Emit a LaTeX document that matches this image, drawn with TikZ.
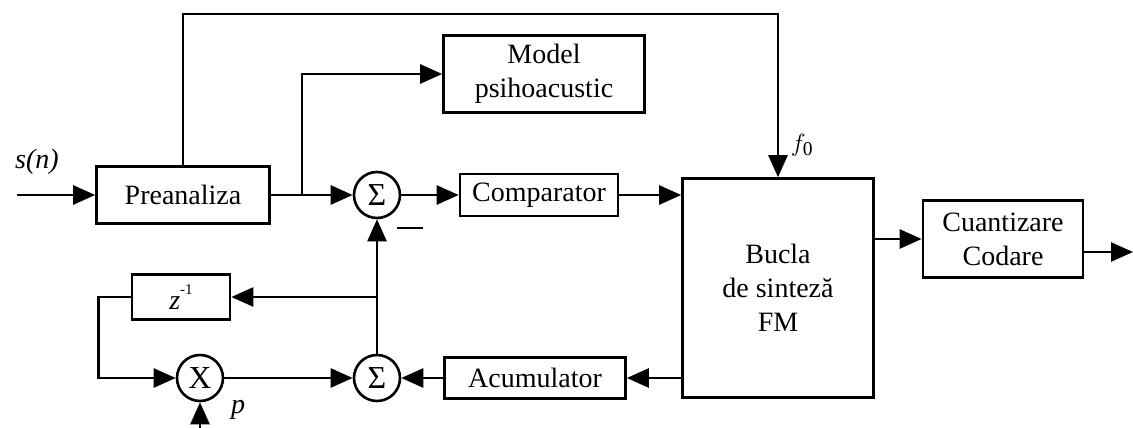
\documentclass[tikz,border=0pt]{standalone}
\usepackage{fontspec}
\setmainfont{Liberation Serif}
\usetikzlibrary{arrows.meta}
\begin{document}
\begin{tikzpicture}[x=1pt,y=-1pt,
  every node/.style={font=\fontsize{28}{34}\selectfont},
  blk/.style={draw,line width=2.6pt,rectangle,inner sep=0pt,align=center},
  sumc/.style={draw,line width=2.6pt,circle,minimum size=46pt,inner sep=0pt,font=\fontsize{32}{34}\selectfont},
  arr/.style={line width=2.6pt,-{Triangle[length=22pt,width=19pt]}},
  ln/.style={line width=2.6pt}]
\useasboundingbox (0,0) rectangle (1133,428);
\node[blk,minimum width=173pt,minimum height=57pt] (pre) at (183,195) {Preanaliza};
\node[blk,minimum width=201pt,minimum height=77pt] (model) at (544,74) {Model\\psihoacustic};
\node[sumc] (s1) at (377,195) {Σ};
\node[blk,minimum width=158pt,minimum height=42pt] (comp) at (539,195) {Comparator};
\node[blk,minimum width=191pt,minimum height=219pt] (bucla) at (778,288) {Bucla\\de sinteză\\FM};
\node[blk,minimum width=160pt,minimum height=77pt] (cuant) at (1003,239) {Cuantizare\\Codare};
\node[blk,minimum width=181pt,minimum height=41pt] (acum) at (535,378) {Acumulator};
\node[sumc] (s2) at (377,378) {Σ};
\node[blk,minimum width=98pt,minimum height=45pt] (z) at (181,297) {\textit{z}\raisebox{1.1ex}{\fontsize{15}{15}\selectfont -1}};
\node[sumc] (X) at (200,378) {X};
\node (sn) at (37,162) {\textit{s(n)}};
\node (f0) at (802,145) {$f_{\mathrm{0}}$};
\node (p) at (238,410) {\textit{p}};
\coordinate (in) at (17,195);
\coordinate (br1) at (302,195);
\coordinate (tl) at (183,14);
\coordinate (tr) at (778,14);
\coordinate (out) at (1133,252);
\coordinate (br2) at (377,297);
\coordinate (pin) at (200,428);
\coordinate (m1) at (397,228);
\coordinate (m2) at (423,228);
\draw[arr] (in) -- (pre.west);
\draw[arr] (pre.east) -- (s1.west);
\draw[arr] (br1) |- (model.west);
\draw[arr] (pre.north) -- (tl) -- (tr) -- (bucla.north);
\draw[arr] (s1.east) -- (comp.west);
\draw[arr] (comp.east) -- (bucla.west |- comp.east);
\draw[arr] (bucla.east |- cuant.west) -- (cuant.west);
\draw[arr] (cuant.east |- out) -- (out);
\draw[arr] (bucla.west |- acum.east) -- (acum.east);
\draw[arr] (acum.west) -- (s2.east);
\draw[arr] (X.east) -- (s2.west);
\draw[arr] (s2.north) -- (s1.south);
\draw[arr] (br2) -- (z.east);
\draw[arr] (z.west) -- ++(-32,0) |- (X.west);
\draw[arr] (pin) -- (X.south);
\draw[ln] (m1) -- (m2);
\end{tikzpicture}
\end{document}
